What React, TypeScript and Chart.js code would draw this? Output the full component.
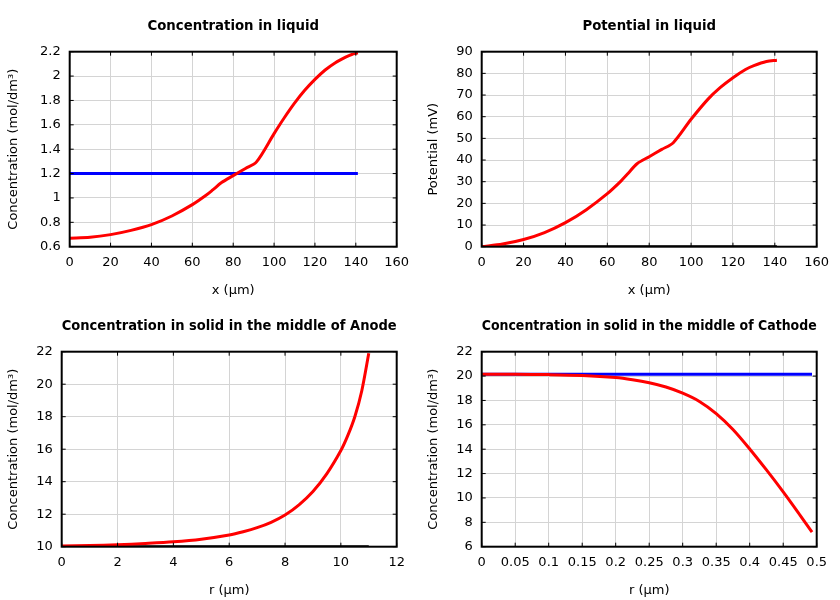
import React, { useEffect, useRef } from "react";
import { Chart, registerables } from "chart.js";

Chart.register(...registerables);

// ---------- Data ----------
// Panel 1: Concentration in liquid
const liqX = [0, 10, 20, 30, 40, 50, 60, 66.7, 70, 74.3, 80, 86, 91.4, 100, 105, 110, 115, 120, 125, 130, 135, 138, 141];
const liqConc = [0.67, 0.677, 0.699, 0.734, 0.781, 0.852, 0.945, 1.022, 1.066, 1.126, 1.183, 1.242, 1.296, 1.528, 1.658, 1.778, 1.883, 1.973, 2.05, 2.11, 2.155, 2.177, 2.19];
const liqConcInitX = [0, 141];
const liqConcInit = [1.2, 1.2];

// Panel 2: Potential in liquid
const potX = [0, 10, 20, 30, 40, 50, 60, 66.5, 70, 74.2, 80, 86, 91.5, 100, 108, 114, 120, 126, 130, 136, 141];
const potVal = [0, 1.2, 3.3, 6.5, 11.1, 17.1, 24.5, 30.3, 33.9, 38.3, 41.55, 44.9, 48.0, 58.8, 68, 73.5, 78, 81.8, 83.6, 85.5, 86.1];
const potInitX = [0, 141];
const potInit = [0, 0];
const potZero = [0, 0];

// Panel 3: Concentration in solid, middle of Anode
const anR = [0, 1, 2, 3, 4, 5, 6, 6.5, 7, 7.5, 8, 8.5, 9, 9.5, 10, 10.25, 10.5, 10.75, 11];
const anConc = [10.05, 10.07, 10.12, 10.2, 10.3, 10.46, 10.72, 10.92, 11.17, 11.5, 11.95, 12.58, 13.4, 14.5, 15.92, 16.85, 18.0, 19.6, 21.9];
const anInitR = [0, 11];
const anInit = [10, 10];
const anZero = [10, 10];

// Panel 4: Concentration in solid, middle of Cathode
const caR = [0, 0.05, 0.1, 0.15, 0.2, 0.225, 0.25, 0.275, 0.3, 0.325, 0.35, 0.375, 0.4, 0.425, 0.45, 0.475, 0.493];
const caConc = [20.15, 20.15, 20.12, 20.05, 19.88, 19.7, 19.45, 19.1, 18.6, 17.92, 16.92, 15.62, 14.02, 12.3, 10.5, 8.6, 7.2];
const caInitR = [0, 0.493];
const caInit = [20.15, 20.15];

// Tick values
const xTicksLiquid = [0, 20, 40, 60, 80, 100, 120, 140, 160];
const yTicksConcLiquid = [0.6, 0.8, 1, 1.2, 1.4, 1.6, 1.8, 2, 2.2];
const yTicksPotential = [0, 10, 20, 30, 40, 50, 60, 70, 80, 90];
const xTicksAnode = [0, 2, 4, 6, 8, 10, 12];
const yTicksAnode = [10, 12, 14, 16, 18, 20, 22];
const xTicksCathode = [0, 0.05, 0.1, 0.15, 0.2, 0.25, 0.3, 0.35, 0.4, 0.45, 0.5];
const yTicksCathode = [6, 8, 10, 12, 14, 16, 18, 20, 22];

const zip = (xs: number[], ys: number[]) => xs.map((x, i) => ({ x, y: ys[i] }));

const RED = "#ff0000";
const BLUE = "#0000ff";
const BLACK = "#000000";

const framePlugin = {
  id: "frame",
  afterDatasetsDraw(chart: any) {
    const { ctx, chartArea } = chart;
    const { left, right, top, bottom } = chartArea;
    const xs = chart.scales.x;
    const ys = chart.scales.y;
    ctx.save();
    ctx.strokeStyle = "#000";
    ctx.lineWidth = 1;
    const tl = 4;
    ctx.beginPath();
    xs.ticks.forEach((t: any) => {
      const p = xs.getPixelForValue(t.value);
      ctx.moveTo(p, bottom);
      ctx.lineTo(p, bottom - tl);
      ctx.moveTo(p, top);
      ctx.lineTo(p, top + tl);
    });
    ys.ticks.forEach((t: any) => {
      const p = ys.getPixelForValue(t.value);
      ctx.moveTo(left, p);
      ctx.lineTo(left + tl, p);
      ctx.moveTo(right, p);
      ctx.lineTo(right - tl, p);
    });
    ctx.stroke();
    ctx.lineWidth = 2;
    ctx.strokeRect(left, top, right - left, bottom - top);
    ctx.restore();
  },
};

type Series = { xs: number[]; ys: number[]; color: string; width: number };

type PanelProps = {
  title: string;
  titleSize: number;
  xTitle: string;
  yTitle: string;
  xTicks: number[];
  yTicks: number[];
  series: Series[];
  left: number;
};

const W = 420;
const H = 300;
const RIGHT = 396.7;
const TOP = 51.7;
const BOTTOM = 246.7;

function Panel({ title, titleSize, xTitle, yTitle, xTicks, yTicks, series, left }: PanelProps) {
  const ref = useRef<HTMLCanvasElement | null>(null);
  useEffect(() => {
    if (!ref.current) return;
    const font = { family: "DejaVu Sans", size: 13 };
    const titleLine = titleSize * 1.2;
    const chart = new Chart(ref.current, {
      type: "line",
      data: {
        datasets: series.map((s, i) => ({
          data: zip(s.xs, s.ys),
          borderColor: s.color,
          backgroundColor: s.color,
          borderWidth: s.width,
          pointRadius: 0,
          fill: false,
          tension: 0.3,
          borderJoinStyle: "round" as const,
          order: i,
        })),
      },
      options: {
        animation: false,
        responsive: false,
        events: [],
        layout: { padding: { left: 0, right: W - RIGHT, top: 0, bottom: 0 } },
        plugins: {
          legend: { display: false },
          tooltip: { enabled: false },
          title: {
            display: true,
            text: title,
            fullSize: false,
            color: "#000",
            font: { family: "DejaVu Sans", size: titleSize, weight: "bold" },
            padding: { top: 27 - titleLine / 2, bottom: TOP - (27 - titleLine / 2) - titleLine },
          },
        },
        scales: {
          x: {
            type: "linear",
            min: xTicks[0],
            max: xTicks[xTicks.length - 1],
            afterBuildTicks: (s: any) => {
              s.ticks = xTicks.map((v) => ({ value: v }));
            },
            afterFit: (s: any) => {
              s.height = H - BOTTOM;
            },
            ticks: {
              color: "#000",
              font,
              padding: 8.5,
              maxRotation: 0,
              autoSkip: false,
              callback: (v: any) => String(v),
            },
            grid: { color: "#d4d4d4", lineWidth: 1, drawTicks: false },
            border: { display: false },
            title: {
              display: true,
              text: xTitle,
              color: "#000",
              font,
              padding: { top: 0, bottom: 1.5 },
            },
          },
          y: {
            type: "linear",
            min: yTicks[0],
            max: yTicks[yTicks.length - 1],
            afterBuildTicks: (s: any) => {
              s.ticks = yTicks.map((v) => ({ value: v }));
            },
            afterFit: (s: any) => {
              s.width = left;
            },
            ticks: {
              color: "#000",
              font,
              padding: 9,
              autoSkip: false,
              callback: (v: any) => String(v),
            },
            grid: { color: "#d4d4d4", lineWidth: 1, drawTicks: false },
            border: { display: false },
            title: {
              display: true,
              text: yTitle,
              color: "#000",
              font,
              padding: { top: 6.2, bottom: 0 },
            },
          },
        },
      },
      plugins: [framePlugin],
    } as any);
    return () => chart.destroy();
  }, []);
  return <canvas ref={ref} width={W} height={H} style={{ display: "block", width: W, height: H }} />;
}

export default function App() {
  useEffect(() => {
    document.body.style.margin = "0";
  }, []);
  const cell = (x: number, y: number): React.CSSProperties => ({ position: "absolute", left: x, top: y, width: W, height: H });
  return (
    <div style={{ position: "absolute", left: 0, top: 0, width: 840, height: 600, background: "#fff" }}>
      <div style={cell(0, 0)}>
        <Panel
          title="Concentration in liquid"
          titleSize={13.3}
          xTitle="x (µm)"
          yTitle="Concentration (mol/dm³)"
          xTicks={xTicksLiquid}
          yTicks={yTicksConcLiquid}
          left={69.7}
          series={[
            { xs: liqX, ys: liqConc, color: RED, width: 3 },
            { xs: liqConcInitX, ys: liqConcInit, color: BLUE, width: 3 },
          ]}
        />
      </div>
      <div style={cell(420, 0)}>
        <Panel
          title="Potential in liquid"
          titleSize={13.3}
          xTitle="x (µm)"
          yTitle="Potential (mV)"
          xTicks={xTicksLiquid}
          yTicks={yTicksPotential}
          left={61.7}
          series={[
            { xs: potX, ys: potVal, color: RED, width: 3 },
            { xs: potInitX, ys: potInit, color: BLUE, width: 1.5 },
            { xs: potInitX, ys: potZero, color: BLACK, width: 3 },
          ]}
        />
      </div>
      <div style={cell(0, 300)}>
        <Panel
          title="Concentration in solid in the middle of Anode"
          titleSize={13.4}
          xTitle="r (µm)"
          yTitle="Concentration (mol/dm³)"
          xTicks={xTicksAnode}
          yTicks={yTicksAnode}
          left={61.7}
          series={[
            { xs: anR, ys: anConc, color: RED, width: 3 },
            { xs: anInitR, ys: anInit, color: BLUE, width: 1.5 },
            { xs: anInitR, ys: anZero, color: BLACK, width: 3 },
          ]}
        />
      </div>
      <div style={cell(420, 300)}>
        <Panel
          title="Concentration in solid in the middle of Cathode"
          titleSize={13.4}
          xTitle="r (µm)"
          yTitle="Concentration (mol/dm³)"
          xTicks={xTicksCathode}
          yTicks={yTicksCathode}
          left={61.7}
          series={[
            { xs: caR, ys: caConc, color: RED, width: 3 },
            { xs: caInitR, ys: caInit, color: BLUE, width: 3 },
          ]}
        />
      </div>
    </div>
  );
}
